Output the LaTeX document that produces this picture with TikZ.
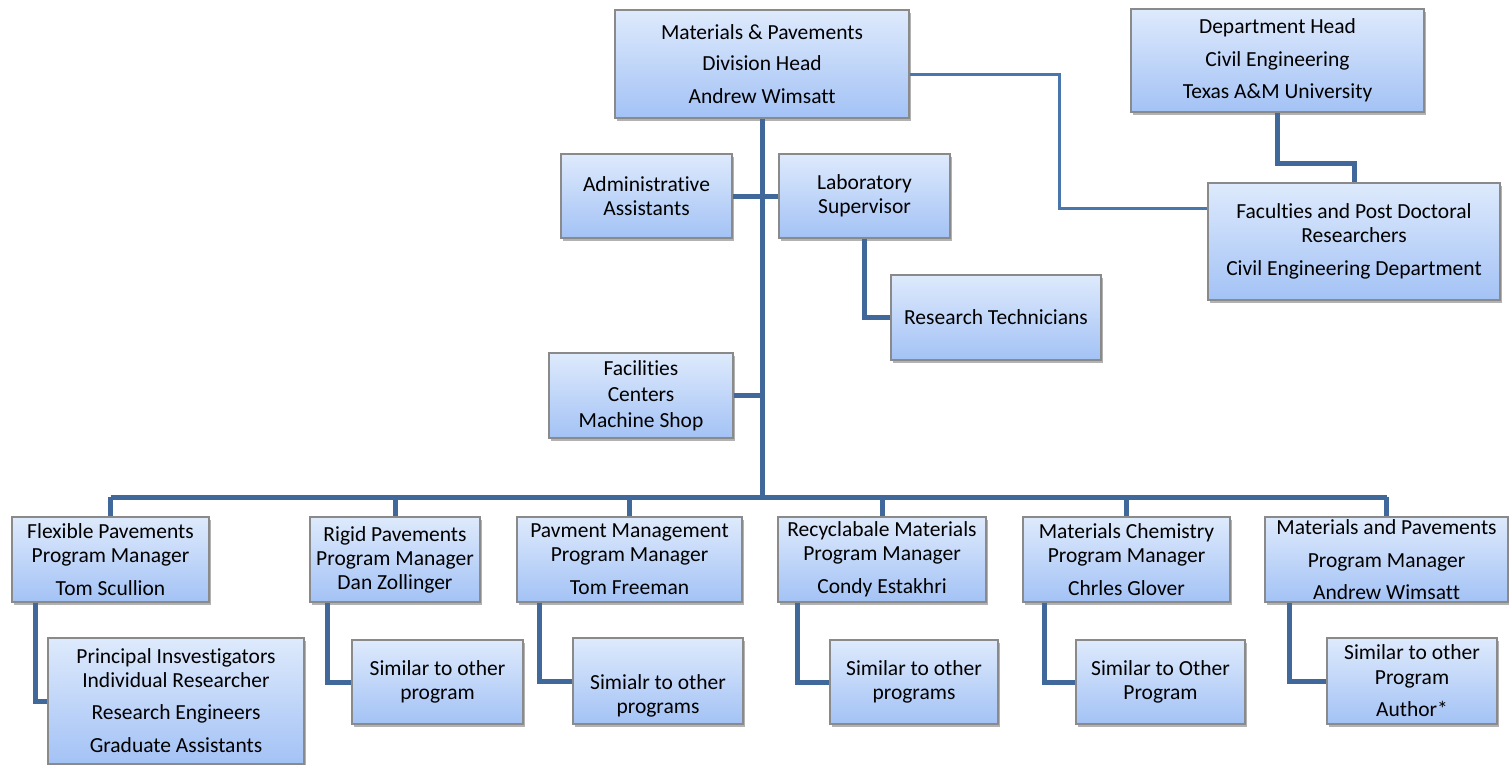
\documentclass[tikz,border=0pt]{standalone}
\usepackage{fontspec}
\setmainfont{Carlito}[Ligatures={NoCommon,NoContextual,NoRequired},RawFeature={-liga;-clig;-calt;-dlig}]
\usetikzlibrary{shadows,calc}
\definecolor{linec}{HTML}{41689A}
\definecolor{linec2}{HTML}{4A76AE}
\definecolor{boxtop}{HTML}{DEEAFC}
\definecolor{boxbot}{HTML}{A3C2F5}
\definecolor{boxline}{HTML}{8A8A8A}
\tikzset{
  box/.style={draw=boxline, line width=1.3pt, top color=boxtop, bottom color=boxbot,
    inner sep=0pt, align=center, font=\fontsize{21.5}{24}\selectfont,
    drop shadow={shadow xshift=1.5pt, shadow yshift=-3pt, opacity=0.3, fill=black}},
  conn/.style={draw=linec, line width=5pt, line join=miter},
  conntwo/.style={draw=linec2, line width=3pt, line join=miter}
}
\begin{document}
\begin{tikzpicture}[x=1pt,y=-1pt]
\useasboundingbox (0,0) rectangle (1509,765);
% nodes
\node[box, minimum width=294, minimum height=108] (mp) at (762,64) {Materials \& Pavements\\[7pt]Division Head\\[9pt]Andrew Wimsatt};
\node[box, minimum width=293, minimum height=103] (dh) at (1277.5,60.5) {Department Head\\[9pt]Civil Engineering\\[8pt]Texas A\&M University};
\node[box, minimum width=171, minimum height=84] (adm) at (646.5,196) {Administrative\\Assistants};
\node[box, minimum width=171, minimum height=84] (lab) at (864.5,196) {Laboratory\\Supervisor};
\node[box, minimum width=210, minimum height=85] (rt) at (996,317.5) {Research Technicians};
\node[box, minimum width=292, minimum height=117] (fpd) at (1354,241.5) {Faculties and Post Doctoral\\Researchers\\[9pt]Civil Engineering Department};
\node[box, minimum width=184, minimum height=85] (fac) at (641,395.5) {Facilities\\[2pt]Centers\\[2pt]Machine Shop};
\node[box, minimum width=197, minimum height=85] (fp) at (110.5,559.5) {Flexible Pavements\\Program Manager\\[9pt]Tom Scullion};
\node[box, minimum width=170, minimum height=85] (rg) at (395,559.5) {Rigid Pavements\\Program Manager\\Dan Zollinger};
\node[box, minimum width=225, minimum height=85] (pm) at (629.5,559.5) {Pavment Management\\Program Manager\\[9pt]Tom Freeman};
\node[box, minimum width=208, minimum height=85] (rc) at (882,559.5) {Recyclabale Materials\\Program Manager\\[9pt]Condy Estakhri};
\node[box, minimum width=207, minimum height=85] (ch) at (1126.5,559.5) {Materials Chemistry\\Program Manager\\[9pt]Chrles Glover};
\node[box, minimum width=243, minimum height=85] (mpp) at (1386.5,559.5) {Materials and Pavements\\[9pt]Program Manager\\[8pt]Andrew Wimsatt};
\node[box, minimum width=256, minimum height=126] (pi) at (176,701) {Principal Insvestigators\\Individual Researcher\\[8pt]Research Engineers\\[9pt]Graduate Assistants};
\node[box, minimum width=171, minimum height=84] (s1) at (437.5,682) {Similar to other\\program};
\node[box, minimum width=170, minimum height=86] (s2) at (658,681) {\mbox{}\\[20pt]Simialr to other\\programs};
\node[box, minimum width=168, minimum height=84] (s3) at (914,682) {Similar to other\\programs};
\node[box, minimum width=169, minimum height=84] (s4) at (1160.5,682) {Similar to Other\\Program};
\node[box, minimum width=170, minimum height=86] (s5) at (1412,681) {Similar to other\\[1pt]Program\\[8pt]Author*};
% helper coordinates
\coordinate (busy) at (0,497);
\coordinate (k1) at (1059,75);
\coordinate (k2) at (1059,208);
\coordinate (k3) at (0,163);
% connectors
\draw[conn] (mp.south) -- (mp.south |- busy);
\draw[conn] (fp.north |- busy) -- (mpp.north |- busy);
\foreach \n in {fp,rg,pm,rc,ch,mpp} \draw[conn] (\n.north |- busy) -- (\n.north);
\draw[conn] (adm.east) -- (adm.east -| mp.south);
\draw[conn] (lab.west) -- (lab.west -| mp.south);
\draw[conn] (fac.east) -- (fac.east -| mp.south);
\draw[conn] (lab.south) |- (rt.west);
\draw[conntwo] (mp.east |- k1) -- (k1) -- (k2) -- (k2 -| fpd.west);
\draw[conn] (dh.south) -- (dh.south |- k3) -| (fpd.north);
\draw[conn] ([xshift=24pt]fp.south west) |- (pi.west);
\draw[conn] ([xshift=18pt]rg.south west) |- (s1.west);
\draw[conn] ([xshift=23pt]pm.south west) |- (s2.west);
\draw[conn] ([xshift=20pt]rc.south west) |- (s3.west);
\draw[conn] ([xshift=22pt]ch.south west) |- (s4.west);
\draw[conn] ([xshift=25pt]mpp.south west) |- (s5.west);
\end{tikzpicture}
\end{document}
